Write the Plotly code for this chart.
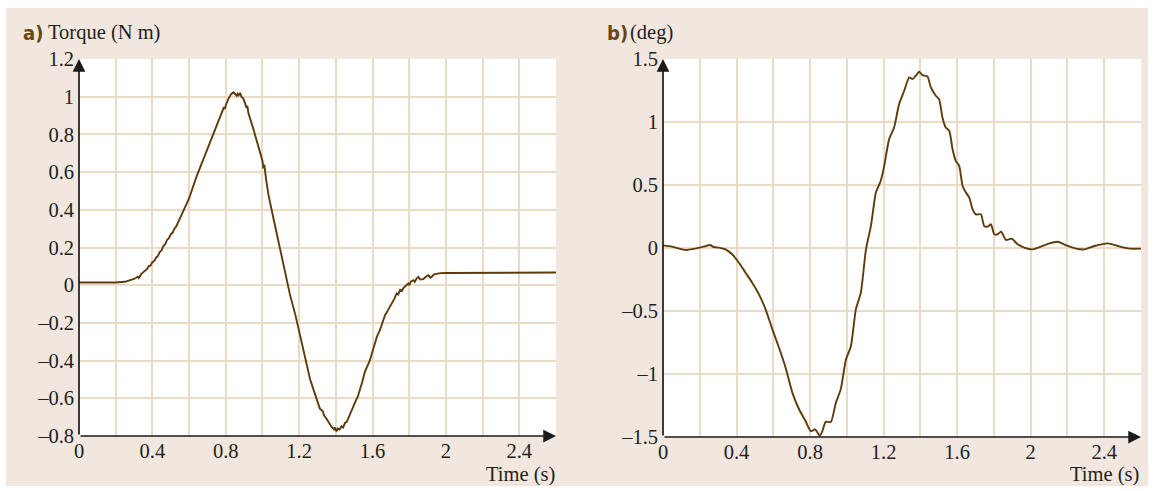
import plotly.graph_objects as go

# ---------------- data ----------------
t_torque = [0.00, 0.10, 0.20, 0.25, 0.28, 0.30, 0.32, 0.325, 0.34, 0.36, 0.37, 0.38, 0.39, 0.40,
            0.41, 0.42, 0.43, 0.44, 0.45, 0.46, 0.47, 0.48, 0.49, 0.50, 0.51, 0.52, 0.53, 0.55,
            0.58, 0.60, 0.64, 0.687, 0.733, 0.76, 0.78, 0.79, 0.795, 0.80, 0.815, 0.83, 0.842,
            0.852, 0.86, 0.865, 0.87, 0.878, 0.885, 0.896, 0.905, 0.912, 0.918, 0.924, 0.95,
            0.98, 1.00, 1.005, 1.01, 1.02, 1.033, 1.06, 1.096, 1.142, 1.15, 1.18, 1.21, 1.24,
            1.26, 1.277, 1.30, 1.313, 1.33, 1.335, 1.35, 1.365, 1.377, 1.39, 1.395, 1.404, 1.41,
            1.42, 1.431, 1.44, 1.45, 1.459, 1.47, 1.48, 1.495, 1.51, 1.52, 1.531, 1.545, 1.558,
            1.57, 1.586, 1.60, 1.613, 1.625, 1.64, 1.655, 1.668, 1.68, 1.695, 1.71, 1.72, 1.731,
            1.74, 1.75, 1.76, 1.768, 1.78, 1.795, 1.80, 1.81, 1.822, 1.83, 1.84, 1.85, 1.86,
            1.877, 1.89, 1.904, 1.915, 1.922, 1.935, 1.949, 1.97, 2.003, 2.30, 2.60]
torque = [0.014, 0.013, 0.014, 0.018, 0.027, 0.033, 0.045, 0.038, 0.060, 0.078, 0.085, 0.100,
          0.105, 0.122, 0.128, 0.146, 0.155, 0.176, 0.185, 0.208, 0.218, 0.240, 0.250, 0.270,
          0.278, 0.300, 0.312, 0.355, 0.42, 0.46, 0.575, 0.69, 0.805, 0.87, 0.925, 0.945, 0.935,
          0.955, 0.99, 1.015, 1.023, 1.015, 1.005, 1.015, 1.008, 1.02, 1.0, 0.99, 0.965, 0.945,
          0.95, 0.91, 0.83, 0.726, 0.66, 0.62, 0.64, 0.56, 0.478, 0.354, 0.195, -0.018, -0.05,
          -0.16, -0.29, -0.41, -0.50, -0.55, -0.62, -0.655, -0.67, -0.69, -0.71, -0.735, -0.752,
          -0.765, -0.755, -0.775, -0.76, -0.765, -0.748, -0.755, -0.73, -0.726, -0.70, -0.68,
          -0.637, -0.61, -0.59, -0.558, -0.51, -0.46, -0.43, -0.398, -0.35, -0.30, -0.27, -0.239,
          -0.19, -0.159, -0.14, -0.115, -0.085, -0.07, -0.044, -0.05, -0.025, -0.03, -0.015,
          -0.005, 0.009, 0.00, 0.02, 0.027, 0.018, 0.035, 0.044, 0.03, 0.032, 0.045, 0.053, 0.04,
          0.044, 0.058, 0.062, 0.064, 0.065, 0.066, 0.067]

t_angle = [0.00, 0.049, 0.122, 0.176, 0.222, 0.255, 0.276, 0.304, 0.34, 0.376, 0.413, 0.449,
           0.485, 0.522, 0.558, 0.595, 0.631, 0.667, 0.704, 0.74, 0.776, 0.804, 0.827, 0.853,
           0.867, 0.885, 0.913, 0.94, 0.967, 0.995, 1.022, 1.049, 1.076, 1.104, 1.131, 1.158,
           1.184, 1.203, 1.23, 1.257, 1.284, 1.312, 1.339, 1.357, 1.375, 1.393, 1.411, 1.439,
           1.457, 1.484, 1.502, 1.52, 1.538, 1.557, 1.575, 1.593, 1.611, 1.63, 1.648, 1.666,
           1.684, 1.702, 1.729, 1.747, 1.766, 1.784, 1.802, 1.82, 1.839, 1.866, 1.896, 1.929,
           1.965, 2.011, 2.056, 2.102, 2.147, 2.202, 2.247, 2.292, 2.347, 2.42, 2.474, 2.538, 2.60]
angle = [0.021, 0.011, -0.016, -0.005, 0.011, 0.024, 0.008, 0.003, -0.011, -0.05, -0.117, -0.196,
         -0.275, -0.368, -0.487, -0.646, -0.792, -0.95, -1.15, -1.28, -1.375, -1.454, -1.44,
         -1.489, -1.454, -1.38, -1.38, -1.23, -1.12, -0.885, -0.78, -0.487, -0.355, -0.011, 0.175,
         0.44, 0.532, 0.65, 0.864, 0.956, 1.14, 1.248, 1.354, 1.34, 1.367, 1.399, 1.372, 1.36,
         1.274, 1.208, 1.18, 1.036, 0.956, 0.93, 0.784, 0.69, 0.652, 0.49, 0.44, 0.4, 0.307,
         0.267, 0.267, 0.175, 0.17, 0.188, 0.109, 0.109, 0.13, 0.064, 0.074, 0.03, 0.003, -0.011,
         0.011, 0.037, 0.05, 0.016, -0.005, -0.011, 0.016, 0.037, 0.016, -0.005, -0.005]

x_grid = [0.0, 0.2, 0.4, 0.6, 0.8, 1.0, 1.2, 1.4, 1.6, 1.8, 2.0, 2.2, 2.4, 2.6]
x_labels = ["0", "", "0.4", "", "0.8", "", "1.2", "", "1.6", "", "2", "", "2.4", ""]
ya_ticks = [-0.8, -0.6, -0.4, -0.2, 0.0, 0.2, 0.4, 0.6, 0.8, 1.0, 1.2]
ya_labels = ["–0.8", "–0.6", "–0.4", "–0.2", "0", "0.2", "0.4", "0.6", "0.8", "1", "1.2"]
yb_ticks = [-1.5, -1.0, -0.5, 0.0, 0.5, 1.0, 1.5]
yb_labels = ["–1.5", "–1", "–0.5", "0", "0.5", "1", "1.5"]

# ---------------- style ----------------
W, H = 1153, 491
BEIGE = "#f1e7de"
GRID = "#ebdac6"
LINE = "#5e3b0c"
BROWN = "#6b4514"
TXT = "#231f20"
SERIF = "Liberation Serif, Times New Roman, serif"
SANS_B = "Liberation Sans Narrow, DejaVu Sans Condensed, Arial Narrow, sans-serif"
FS = 20.5


def px(x):
    return x / W


def py(y):
    return 1 - y / H


fig = go.Figure()
fig.add_trace(go.Scatter(x=t_torque, y=torque, mode="lines", xaxis="x", yaxis="y",
                         line=dict(color=LINE, width=1.9), showlegend=False, hoverinfo="skip"))
fig.add_trace(go.Scatter(x=t_angle, y=angle, mode="lines", xaxis="x2", yaxis="y2",
                         line=dict(color=LINE, width=1.9, shape="spline", smoothing=0.6),
                         showlegend=False, hoverinfo="skip"))

axis_common = dict(showgrid=True, gridcolor=GRID, gridwidth=1.6, zeroline=False,
                   showline=False, ticks="", tickmode="array", automargin=False,
                   tickfont=dict(family=SERIF, size=FS, color=TXT), fixedrange=True)

fig.update_layout(
    width=W, height=H, autosize=False,
    margin=dict(l=0, r=0, t=0, b=0, pad=0),
    paper_bgcolor=BEIGE, plot_bgcolor="white",
    xaxis=dict(domain=[px(79), px(556)], range=[0, 2.6], anchor="y",
               tickvals=x_grid, ticktext=x_labels, ticklabelstandoff=0, **axis_common),
    yaxis=dict(domain=[py(436), py(59)], range=[-0.8, 1.2], anchor="x",
               tickvals=ya_ticks, ticktext=ya_labels, ticklabelstandoff=4, **axis_common),
    xaxis2=dict(domain=[px(663), px(1141)], range=[0, 2.6], anchor="y2",
                tickvals=x_grid, ticktext=x_labels, ticklabelstandoff=0, **axis_common),
    yaxis2=dict(domain=[py(437), py(59)], range=[-1.5, 1.5], anchor="x2",
                tickvals=yb_ticks, ticktext=yb_labels, ticklabelstandoff=4, **axis_common),
)

# white page edges around the beige panel
fig.add_shape(type="rect", xref="paper", yref="paper", x0=0, x1=1, y0=py(8), y1=1,
              fillcolor="white", line_width=0, layer="below")
fig.add_shape(type="rect", xref="paper", yref="paper", x0=0, x1=px(6), y0=0, y1=1,
              fillcolor="white", line_width=0, layer="below")
fig.add_shape(type="rect", xref="paper", yref="paper", x0=px(1148), x1=1, y0=0, y1=1,
              fillcolor="white", line_width=0, layer="below")
fig.add_shape(type="rect", xref="paper", yref="paper", x0=0, x1=1, y0=0, y1=py(486),
              fillcolor="white", line_width=0, layer="below")

# axis lines with arrowheads
for xr, yr, x0, x1, y0, y1 in [("x", "y", 0, 2.6, -0.8, 1.2), ("x2", "y2", 0, 2.6, -1.5, 1.5)]:
    fig.add_annotation(x=x1, y=y0, ax=x0, ay=y0, xref=xr, yref=yr, axref=xr, ayref=yr,
                       text="", showarrow=True, arrowhead=2, arrowsize=1.5, arrowwidth=1.7,
                       arrowcolor="#1a1a1a", standoff=0, startstandoff=0)
    fig.add_annotation(x=x0, y=y1, ax=x0, ay=y0, xref=xr, yref=yr, axref=xr, ayref=yr,
                       text="", showarrow=True, arrowhead=2, arrowsize=1.5, arrowwidth=1.7,
                       arrowcolor="#1a1a1a", standoff=0, startstandoff=0)

# panel labels
fig.add_annotation(x=px(21), y=py(33), xref="paper", yref="paper", xanchor="left", yanchor="middle",
                   text="<b>a)</b>", showarrow=False, font=dict(family=SANS_B, size=20, color=BROWN))
fig.add_annotation(x=px(46), y=py(33), xref="paper", yref="paper", xanchor="left", yanchor="middle",
                   text="Torque (N m)", showarrow=False, font=dict(family=SERIF, size=FS, color=TXT))
fig.add_annotation(x=px(605), y=py(33), xref="paper", yref="paper", xanchor="left", yanchor="middle",
                   text="<b>b)</b>", showarrow=False, font=dict(family=SANS_B, size=20, color=BROWN))
fig.add_annotation(x=px(628), y=py(33), xref="paper", yref="paper", xanchor="left", yanchor="middle",
                   text="(deg)", showarrow=False, font=dict(family=SERIF, size=FS, color=TXT))
fig.add_annotation(x=px(557), y=py(474), xref="paper", yref="paper", xanchor="right", yanchor="middle",
                   text="Time (s)", showarrow=False, font=dict(family=SERIF, size=FS, color=TXT))
fig.add_annotation(x=px(1141), y=py(474), xref="paper", yref="paper", xanchor="right", yanchor="middle",
                   text="Time (s)", showarrow=False, font=dict(family=SERIF, size=FS, color=TXT))

fig.write_html(
    "out.html",
    config={"displayModeBar": False, "responsive": False},
    post_script="document.body.style.margin='0';document.body.style.padding='0';"
                "document.body.style.overflow='hidden';",
)
